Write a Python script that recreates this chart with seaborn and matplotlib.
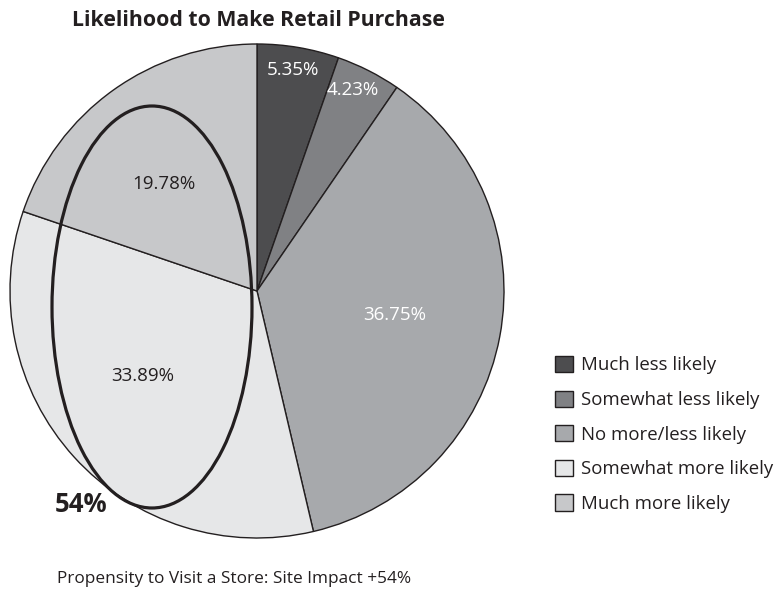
import matplotlib
matplotlib.use("Agg")
import matplotlib.pyplot as plt
from matplotlib.patches import Ellipse
import seaborn as sns

# Survey response shares (percent)
categories = ["Much less likely", "Somewhat less likely", "No more/less likely",
              "Somewhat more likely", "Much more likely"]
shares = [5.35, 4.23, 36.75, 33.89, 19.78]
colors = ["#4d4d4f", "#808184", "#a7a9ac", "#e6e7e8", "#c7c8ca"]
label_colors = ["white", "white", "white", "#231f20", "#231f20"]

title = "Likelihood to Make Retail Purchase"
caption = "Propensity to Visit a Store: Site Impact +54%"
callout = "54%"

sns.set_theme(style="white")
plt.rcParams["font.family"] = ["Open Sans", "DejaVu Sans"]

W, H = 780, 594
fig = plt.figure(figsize=(W / 100, H / 100), dpi=100)
ax = fig.add_axes([0, 0, 1, 1])

ink = "#231f20"
cx, cy, r = 257, H - 291, 247

wedges, _, autotexts = ax.pie(
    shares, colors=colors, startangle=90, counterclock=False,
    center=(cx, cy), radius=r, autopct="%.2f%%", frame=True,
    wedgeprops=dict(edgecolor=ink, linewidth=1.0),
    textprops=dict(fontsize=13.5),
)
ax.set_xlim(0, W)
ax.set_ylim(0, H)
ax.axis("off")

# Percentage labels placed inside their slices
label_pos = [(293, 70), (353, 90), (395, 315), (143, 376), (164, 184)]
for t, (lx, ly), c in zip(autotexts, label_pos, label_colors):
    t.set_position((lx, H - ly))
    t.set_color(c)
    t.set_ha("center")
    t.set_va("center")

# Ring around the two "more likely" slices
ax.add_patch(Ellipse((152, H - 307), 200, 402, fill=False,
                     edgecolor=ink, linewidth=2.3, zorder=5))
ax.text(81, H - 504, callout, fontsize=18.5, fontweight="bold",
        color=ink, ha="center", va="center")

ax.text(258, H - 20, title, fontsize=15.3, fontweight="bold",
        color=ink, ha="center", va="center")
ax.text(234, H - 579, caption, fontsize=12.4, color=ink,
        ha="center", va="center")

leg = ax.legend(wedges, categories, loc="upper left",
                bbox_to_anchor=(555 / W, 1 - 356 / H),
                bbox_transform=fig.transFigure,
                frameon=False, fontsize=13.4, borderpad=0, borderaxespad=0,
                handlelength=0.95, handleheight=0.95, handletextpad=0.45,
                labelspacing=0.87)
for txt in leg.get_texts():
    txt.set_color(ink)

fig.savefig("out.png", dpi=100)
